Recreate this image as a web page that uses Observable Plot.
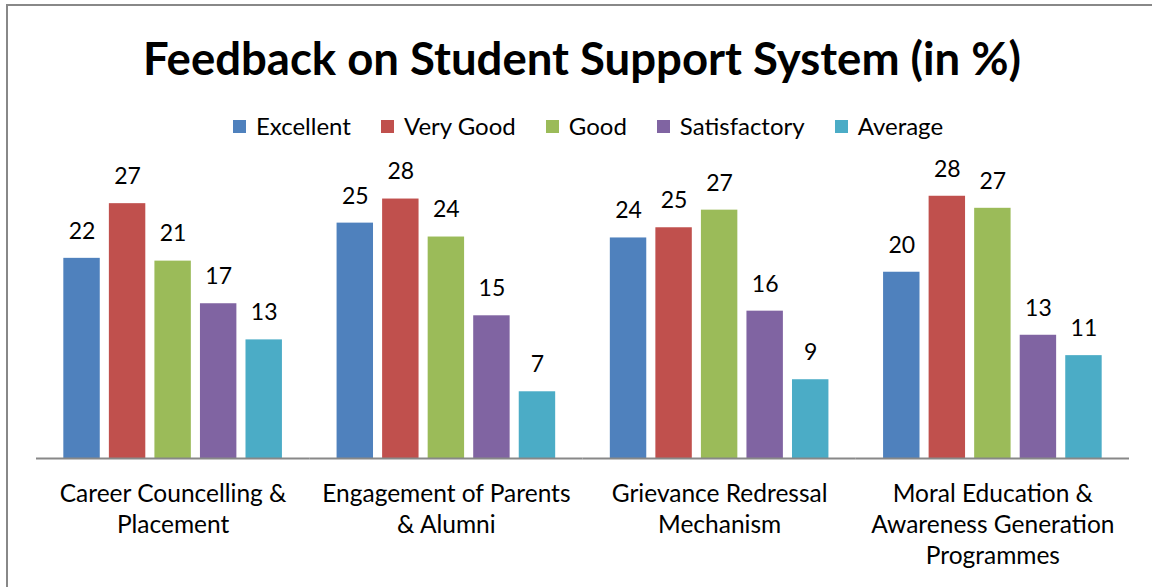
<!DOCTYPE html>
<html>
<head>
<meta charset="utf-8">
<script src="https://cdn.jsdelivr.net/npm/d3@7"></script>
<script src="https://cdn.jsdelivr.net/npm/@observablehq/plot@0.6"></script>
<style>
  html, body { margin: 0; padding: 0; width: 1152px; height: 587px; overflow: hidden; background: #fff; font-family: Lato, "Open Sans", sans-serif; }
  #frame { position: absolute; left: 6px; top: 4px; width: 1200px; height: 700px; border-left: 2px solid #888; border-top: 2px solid #888; }
  #title { position: absolute; left: 6px; width: 1152px; top: 35px; text-align: center; font-weight: 700; font-size: 45.5px; line-height: 1; color: #000; }
  #legend { position: absolute; left: 12px; width: 1152px; top: 112px; display: flex; justify-content: center; gap: 30px; font-size: 24px; line-height: 28px; color: #000; }
  .item { display: flex; align-items: center; gap: 10px; }
  .sw { width: 13px; height: 13px; display: inline-block; }
  #chart { position: absolute; left: 0; top: 150px; }
</style>
</head>
<body>
<div id="frame"></div>
<div id="title">Feedback on Student Support System (in %)</div>
<div id="legend"></div>
<div id="chart"></div>
<script>
// Categories (x groups)
const categories = [
  "Career Councelling &\nPlacement",
  "Engagement of Parents\n& Alumni",
  "Grievance Redressal\nMechanism",
  "Moral Education &\nAwareness Generation\nProgrammes"
];
// Series names
const series = ["Excellent", "Very Good", "Good", "Satisfactory", "Average"];
const colors = ["#4F81BD", "#C0504D", "#9BBB59", "#8064A2", "#4BACC6"];

// Bar heights (in %)
const excellent    = [21.6, 25.4, 23.8, 20.1];
const veryGood     = [27.5, 28.0, 24.9, 28.3];
const good         = [21.3, 23.9, 26.8, 27.0];
const satisfactory = [16.7, 15.4, 15.9, 13.3];
const average      = [12.8, 7.2, 8.5, 11.1];

// Printed data labels
const excellentLabels    = [22, 25, 24, 20];
const veryGoodLabels     = [27, 28, 25, 28];
const goodLabels         = [21, 24, 27, 27];
const satisfactoryLabels = [17, 15, 16, 13];
const averageLabels      = [13, 7, 9, 11];

const seriesValues = [excellent, veryGood, good, satisfactory, average];
const seriesLabels = [excellentLabels, veryGoodLabels, goodLabels, satisfactoryLabels, averageLabels];

const rows = [];
categories.forEach((c, i) => {
  series.forEach((s, j) => {
    rows.push({category: c, series: s, value: seriesValues[j][i], label: seriesLabels[j][i]});
  });
});

// Legend
const legend = document.getElementById("legend");
series.forEach((s, j) => {
  const it = document.createElement("div");
  it.className = "item";
  const sw = document.createElement("span");
  sw.className = "sw";
  sw.style.background = colors[j];
  const t = document.createElement("span");
  t.textContent = s;
  it.appendChild(sw); it.appendChild(t);
  legend.appendChild(it);
});

const chart = Plot.plot({
  width: 1152,
  height: 437,
  marginLeft: 36,
  marginRight: 23,
  marginTop: 30,
  marginBottom: 129,
  fx: {domain: categories, padding: 0, axis: null, round: false},
  x: {domain: series, axis: null, paddingInner: 0.2, paddingOuter: 0.6, round: false},
  y: {domain: [0, 30], axis: null},
  color: {domain: series, range: colors},
  style: {fontFamily: "Lato, 'Open Sans', sans-serif", background: "transparent", overflow: "visible"},
  marks: [
    Plot.barY(rows, {fx: "category", x: "series", y: "value", fill: "series"}),
    Plot.text(rows, {fx: "category", x: "series", y: "value", text: d => String(d.label), dy: -27, fontSize: 23, fill: "#000"}),
    Plot.ruleY([0], {stroke: "#888", strokeWidth: 2}),
    Plot.text(categories, {fx: d => d, text: d => d, frameAnchor: "bottom", lineAnchor: "top", dy: 21, fontSize: 24.5, lineHeight: 1.28, fill: "#000"})
  ]
});
document.getElementById("chart").appendChild(chart);
</script>
</body>
</html>
